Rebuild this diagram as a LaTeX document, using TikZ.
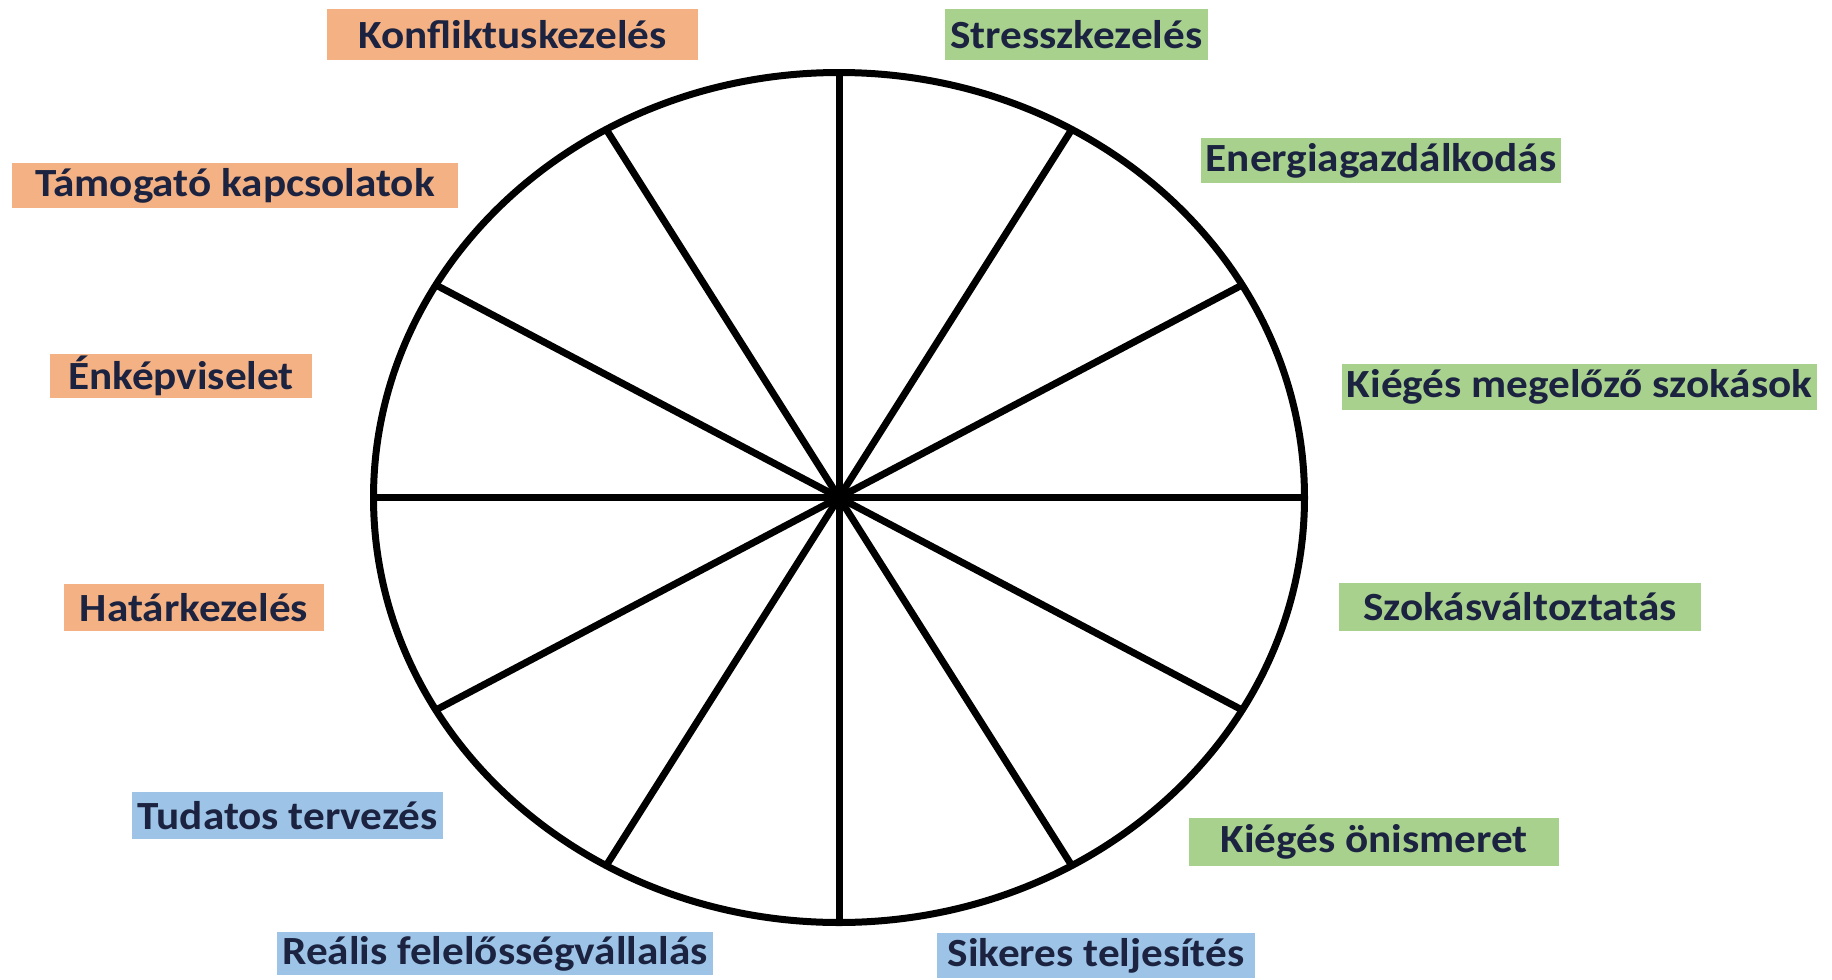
\documentclass[tikz,border=0pt]{standalone}
\usepackage{fontspec}
\usetikzlibrary{calc}
\setmainfont{Carlito}[FakeStretch=1.08]
\definecolor{orng}{HTML}{F4B183}
\definecolor{grn}{HTML}{A9D18E}
\definecolor{blu}{HTML}{9DC3E6}
\definecolor{txt}{HTML}{1B2340}
\tikzset{
  lab/.style={inner sep=0pt, anchor=center, text=txt, font=\fontsize{40}{42}\selectfont\bfseries},
  wheel/.style={line width=7pt, black},
}
\begin{document}
\begin{tikzpicture}[x=1pt,y=-1pt]
\useasboundingbox (0,0) rectangle (1832,980);
\fill[white] (0,0) rectangle (1832,980);
\coordinate (c) at (839,497.5);
\foreach \i in {0,...,11}{
  \coordinate (p\i) at ($(c)+(\i*30:465.5 and 425)$);
}
\foreach \i in {0,...,11}{
  \draw[wheel] (c) -- (p\i);
}
\draw[wheel] (c) ellipse [x radius=465.5, y radius=425];
\fill (c) circle (10);
% labels
\node[lab, fill=orng, minimum width=371, minimum height=51] (l1) at (512.5,34.5) {Konfliktuskezelés};
\node[lab, fill=grn, minimum width=263, minimum height=51] (l2) at (1076.5,34.5) {Stresszkezelés};
\node[lab, fill=orng, minimum width=446, minimum height=45] (l3) at (235,185.5) {Támogató kapcsolatok};
\node[lab, fill=grn, minimum width=360, minimum height=45] (l4) at (1381,160.5) {Energiagazdálkodás};
\node[lab, fill=orng, minimum width=262, minimum height=44] (l5) at (181,376) {Énképviselet};
\node[lab, fill=grn, minimum width=475, minimum height=46] (l6) at (1579.5,387) {Kiégés megelőző szokások};
\node[lab, fill=orng, minimum width=260, minimum height=47] (l7) at (194,607.5) {Határkezelés};
\node[lab, fill=grn, minimum width=362, minimum height=48] (l8) at (1520,607) {Szokásváltoztatás};
\node[lab, fill=blu, minimum width=311, minimum height=47] (l9) at (287.5,815.5) {Tudatos tervezés};
\node[lab, fill=grn, minimum width=370, minimum height=48] (l10) at (1374,842) {Kiégés önismeret};
\node[lab, fill=blu, minimum width=436, minimum height=43] (l11) at (495,953.5) {Reális felelősségvállalás};
\node[lab, fill=blu, minimum width=318, minimum height=45] (l12) at (1096,955.5) {Sikeres teljesítés};
\end{tikzpicture}
\end{document}
